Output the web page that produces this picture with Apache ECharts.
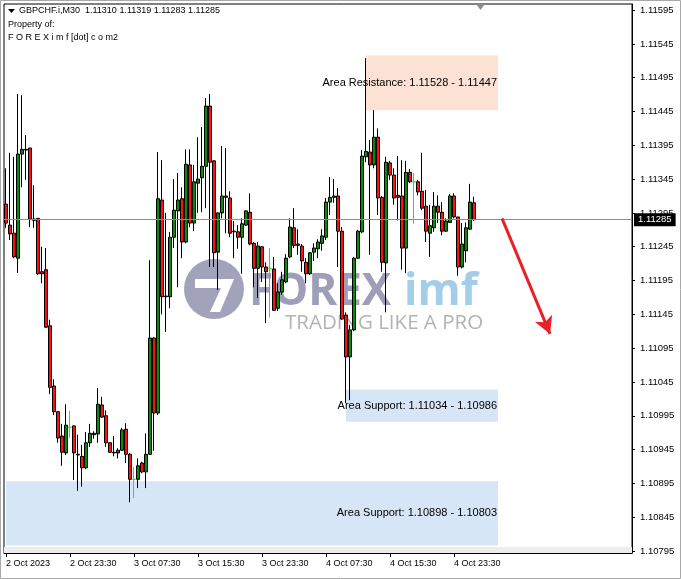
<!DOCTYPE html>
<html><head><meta charset="utf-8">
<script src="https://cdn.jsdelivr.net/npm/echarts@6/dist/echarts.min.js"></script>
<style>html,body{margin:0;padding:0;background:#fff}#c{width:681px;height:579px}</style>
</head><body><div id="c"></div>
<script>
// ---------- data ----------
const symbolName = 'GBPCHF.i,M30';
const openP = [1.11308,1.11277,1.11265,1.11228,1.11382,1.11389,1.11391,1.11286,1.11287,1.11208,
1.11211,1.11128,1.11039,1.11001,1.10965,1.10940,1.10978,1.10980,1.10938,1.10935,
1.10918,1.10955,1.10967,1.10968,1.11011,1.10995,1.10955,1.10941,1.10940,1.10944,
1.10975,1.10938,1.10901,1.10901,1.10925,1.10912,1.10938,1.11110,1.10999,1.11314,
1.11172,1.11171,1.11259,1.11298,1.11316,1.11252,1.11366,1.11280,1.11339,1.11347,
1.11364,1.11453,1.11372,1.11237,1.11295,1.11320,1.11317,1.11268,1.11267,1.11259,
1.11277,1.11296,1.11250,1.11213,1.11245,1.11215,1.11213,1.11212,1.11154,1.11178,
1.11193,1.11230,1.11273,1.11249,1.11246,1.11222,1.11205,1.11237,1.11242,1.11250,
1.11259,1.11311,1.11320,1.11320,1.11268,1.11144,1.11082,1.11122,1.11228,1.11267,
1.11378,1.11385,1.11366,1.11407,1.11318,1.11221,1.11369,1.11351,1.11321,1.11320,
1.11243,1.11355,1.11341,1.11341,1.11327,1.11305,1.11265,1.11273,1.11305,1.11296,
1.11268,1.11281,1.11320,1.11289,1.11215,1.11239,1.11271,1.11310];
const highP = [1.11361,1.11384,1.11378,1.11471,1.11469,1.11410,1.11391,1.11336,1.11287,1.11245,
1.11243,1.11137,1.11049,1.11001,1.10983,1.11012,1.11002,1.10981,1.10967,1.10952,
1.10971,1.10983,1.10972,1.11036,1.11023,1.11003,1.10956,1.10965,1.10947,1.10977,
1.10984,1.10940,1.10919,1.10932,1.10927,1.10969,1.11225,1.11111,1.11385,1.11373,
1.11295,1.11267,1.11345,1.11354,1.11333,1.11389,1.11389,1.11366,1.11407,1.11422,
1.11465,1.11471,1.11373,1.11296,1.11394,1.11391,1.11327,1.11283,1.11277,1.11287,
1.11299,1.11324,1.11252,1.11252,1.11246,1.11222,1.11243,1.11230,1.11191,1.11208,
1.11234,1.11287,1.11302,1.11271,1.11249,1.11228,1.11237,1.11250,1.11256,1.11271,
1.11317,1.11348,1.11345,1.11332,1.11274,1.11148,1.11129,1.11230,1.11270,1.11388,
1.11524,1.11403,1.11447,1.11420,1.11320,1.11378,1.11372,1.11361,1.11379,1.11373,
1.11372,1.11360,1.11354,1.11344,1.11384,1.11329,1.11307,1.11326,1.11321,1.11311,
1.11287,1.11323,1.11324,1.11289,1.11280,1.11281,1.11338,1.11319];
const lowP = [1.11273,1.11255,1.11228,1.11206,1.11333,1.11344,1.11274,1.11273,1.11203,1.11191,
1.11125,1.11027,1.10996,1.10955,1.10921,1.10937,1.10962,1.10900,1.10884,1.10890,
1.10916,1.10949,1.10961,1.10955,1.10992,1.10949,1.10940,1.10935,1.10932,1.10943,
1.10925,1.10867,1.10873,1.10888,1.10910,1.10888,1.10937,1.10943,1.10996,1.11145,
1.11119,1.11154,1.11243,1.11185,1.11228,1.11250,1.11274,1.11268,1.11295,1.11296,
1.11302,1.11215,1.11215,1.11181,1.11287,1.11265,1.11259,1.11228,1.11242,1.11205,
1.11276,1.11247,1.11185,1.11169,1.11193,1.11132,1.11140,1.11150,1.11150,1.11174,
1.11191,1.11228,1.11243,1.11233,1.11208,1.11191,1.11203,1.11224,1.11228,1.11239,
1.11255,1.11292,1.11310,1.11215,1.11137,1.11014,1.11018,1.11120,1.11227,1.11265,
1.11370,1.11233,1.11361,1.11292,1.11208,1.11148,1.11344,1.11307,1.11284,1.11211,
1.11206,1.11339,1.11279,1.11321,1.11299,1.11252,1.11230,1.11267,1.11280,1.11262,
1.11267,1.11280,1.11287,1.11202,1.11213,1.11222,1.11270,1.11283];
const closeP = [1.11280,1.11264,1.11230,1.11382,1.11389,1.11388,1.11286,1.11284,1.11205,1.11205,
1.11126,1.11037,1.11001,1.10962,1.10941,1.10981,1.10978,1.10940,1.10937,1.10918,
1.10955,1.10969,1.10969,1.11012,1.10993,1.10955,1.10941,1.10940,1.10944,1.10974,
1.10938,1.10901,1.10901,1.10921,1.10912,1.10938,1.11110,1.10999,1.11316,1.11171,
1.11171,1.11259,1.11299,1.11314,1.11252,1.11367,1.11280,1.11341,1.11345,1.11364,
1.11453,1.11370,1.11236,1.11295,1.11320,1.11318,1.11265,1.11267,1.11259,1.11279,
1.11298,1.11249,1.11213,1.11246,1.11215,1.11208,1.11213,1.11151,1.11178,1.11196,
1.11228,1.11274,1.11247,1.11247,1.11224,1.11205,1.11236,1.11243,1.11252,1.11261,
1.11311,1.11318,1.11318,1.11268,1.11138,1.11082,1.11122,1.11228,1.11268,1.11379,
1.11386,1.11366,1.11407,1.11317,1.11222,1.11370,1.11351,1.11317,1.11318,1.11243,
1.11355,1.11341,1.11341,1.11326,1.11302,1.11268,1.11276,1.11305,1.11296,1.11268,
1.11283,1.11320,1.11289,1.11215,1.11249,1.11273,1.11311,1.11285];

const firstBarTime = '2023-10-02T15:30:00';
const barMinutes = 30;
const totalSlots = 157;             // visible bar slots incl. empty shift area

const xTickIndex  = [0, 16, 32, 48, 64, 80, 96, 112];
const xTickLabels = ['2 Oct 2023','2 Oct 23:30','3 Oct 07:30','3 Oct 15:30','3 Oct 23:30','4 Oct 07:30','4 Oct 15:30','4 Oct 23:30'];
const yTickValues = [1.10795,1.10845,1.10895,1.10945,1.10995,1.11045,1.11095,1.11145,1.11195,1.11245,1.11295,1.11345,1.11395,1.11445,1.11495,1.11545,1.11595];

const zoneNames = ['Area Resistance: 1.11528 - 1.11447','Area Support: 1.11034 - 1.10986','Area Support: 1.10898 - 1.10803'];
const zoneHigh  = [1.11528, 1.11034, 1.10898];
const zoneLow   = [1.11447, 1.10986, 1.10803];
const zoneFrom  = [90, 85, 0];
const zoneTo    = [123, 123, 123];
const zoneKind  = ['res', 'sup', 'sup'];

const arrowFrom = [124, 1.11287];
const arrowTo   = [136, 1.11116];
const yMin = 1.10792, yMax = 1.11604;
const bottomBand = [1.10801, 1.10792];

// ---------- build ----------
function pad(n){return (n<10?'0':'')+n;}
const categories = [];
{
  const t0 = new Date(firstBarTime).getTime();
  for (let i=0;i<totalSlots;i++){
    const d = new Date(t0 + i*barMinutes*60000);
    categories.push(d.getFullYear()+'.'+pad(d.getMonth()+1)+'.'+pad(d.getDate())+' '+pad(d.getHours())+':'+pad(d.getMinutes()));
  }
}
const candles = categories.map((c,i)=> i<openP.length ? [openP[i], closeP[i], lowP[i], highP[i]] : '-');
const lastClose = closeP[closeP.length-1];
const lastO = openP[openP.length-1], lastH = highP[highP.length-1], lastL = lowP[lowP.length-1];

const FONT = 'Liberation Sans';
const zoneColors = {res:'#fbe2d5', sup:'#d6e6f6'};
const areas = zoneNames.map((n,k)=>[
  {name:n, coord:[categories[zoneFrom[k]], zoneHigh[k]], itemStyle:{color:zoneColors[zoneKind[k]]},
   label:{show:true, position:'insideRight', distance:1, color:'#000', fontSize:11, fontFamily:FONT}},
  {coord:[categories[zoneTo[k]], zoneLow[k]]}
]);
areas.push([{yAxis:bottomBand[0], itemStyle:{color:'#ededed'}, label:{show:false}}, {yAxis:bottomBand[1]}]);

const chart = echarts.init(document.getElementById('c'), null, {renderer:'canvas'});
chart.setOption({
  animation:false,
  backgroundColor:'#ffffff',
  grid:{left:4, right:49, top:4, bottom:26, show:true, borderColor:'#000', borderWidth:1, backgroundColor:'transparent'},
  xAxis:{
    type:'category', data:categories, boundaryGap:true,
    axisLine:{show:true, lineStyle:{color:'#000', width:1}},
    axisTick:{show:true, alignWithLabel:true, length:4, interval:(i)=>xTickIndex.includes(i), lineStyle:{color:'#000'}},
    axisLabel:{interval:(i)=>xTickIndex.includes(i), formatter:(v,i)=>xTickLabels[xTickIndex.indexOf(i)],
      align:'left', margin:6, fontSize:9, color:'#000', fontFamily:FONT},
    splitLine:{show:false}
  },
  yAxis:{
    type:'value', position:'right', min:yMin, max:yMax, scale:true,
    axisLine:{show:true, lineStyle:{color:'#000', width:1}},
    axisTick:{show:true, length:3, customValues:yTickValues, lineStyle:{color:'#000'}},
    axisLabel:{customValues:yTickValues, formatter:(v)=>v.toFixed(5), fontSize:9.5, color:'#000', fontFamily:FONT, margin:8},
    splitLine:{show:false}
  },
  series:[{
    type:'candlestick', data:candles, barWidth:3, z:3,
    itemStyle:{color:'#0b8a0b', color0:'#ff1010', borderColor:'#000', borderColor0:'#000', borderColorDoji:'#00ff00', borderWidth:1},
    emphasis:{disabled:true},
    markArea:{silent:true, data:areas},
    markLine:{silent:true, animation:false, precision:5, symbol:['none','none'],
      data:[
        {yAxis:lastClose, lineStyle:{color:'#8c8c8c', width:1, type:'solid'},
         label:{show:true, position:'end', distance:2, formatter:()=>lastClose.toFixed(5), backgroundColor:'#000', color:'#fff', padding:[2,4,1,4], fontSize:9.5, fontFamily:FONT}},
        [{coord:[categories[arrowFrom[0]], arrowFrom[1]], symbol:'none', lineStyle:{color:'#ea2027', width:3, type:'solid'}, label:{show:false}},
         {coord:[categories[arrowTo[0]], arrowTo[1]], symbol:'arrow', symbolSize:[14,17]}]
      ]}
  }],
  graphic:[
    {type:'rect', z:0, shape:{x:0.5, y:0.5, width:680, height:578}, style:{fill:'none', stroke:'#a8a8a8', lineWidth:1}, silent:true},
    // watermark
    {type:'group', z:1, silent:true, children:[
      {type:'circle', shape:{cx:214, cy:289, r:30}, style:{fill:'#a2a2bb'}},
      {type:'polygon', shape:{points:[[195,279],[234,279],[220,312],[210,312],[221,288],[195,288]]}, style:{fill:'#ffffff'}},
      {type:'text', x:249, y:292, style:{text:'FOREX', font:'bold 44px "Open Sans"', fill:'#9e9eb8', verticalAlign:'middle'}},
      {type:'text', x:404, y:292, style:{text:'imf', font:'bold 44px "Open Sans"', fill:'#a4cde9', verticalAlign:'middle'}},
      {type:'text', x:285, y:323, style:{text:'TRADING LIKE A PRO', font:'20.5px "Open Sans"', fill:'#b3b3b3', verticalAlign:'middle'}}
    ]},
    // chart shift marker
    {type:'polygon', z:5, silent:true, shape:{points:[[476,4],[485,4],[480.5,10]]}, style:{fill:'#8c8c8c'}},
    // header
    {type:'polygon', z:5, silent:true, shape:{points:[[8,9],[15,9],[11.5,13]]}, style:{fill:'#000'}},
    {type:'text', z:5, x:19, y:11, silent:true, style:{text:symbolName+'  '+lastO.toFixed(5)+' '+lastH.toFixed(5)+' '+lastL.toFixed(5)+' '+lastClose.toFixed(5), font:'9px "Liberation Sans"', fill:'#000', verticalAlign:'middle'}},
    {type:'text', z:5, x:8, y:25, silent:true, style:{text:'Property of:', font:'9px "Liberation Sans"', fill:'#000', verticalAlign:'middle'}},
    {type:'text', z:5, x:8, y:38, silent:true, style:{text:'F O R E X i m f [dot] c o m2', font:'9px "Liberation Sans"', fill:'#000', verticalAlign:'middle'}}
  ]
});
</script></body></html>
